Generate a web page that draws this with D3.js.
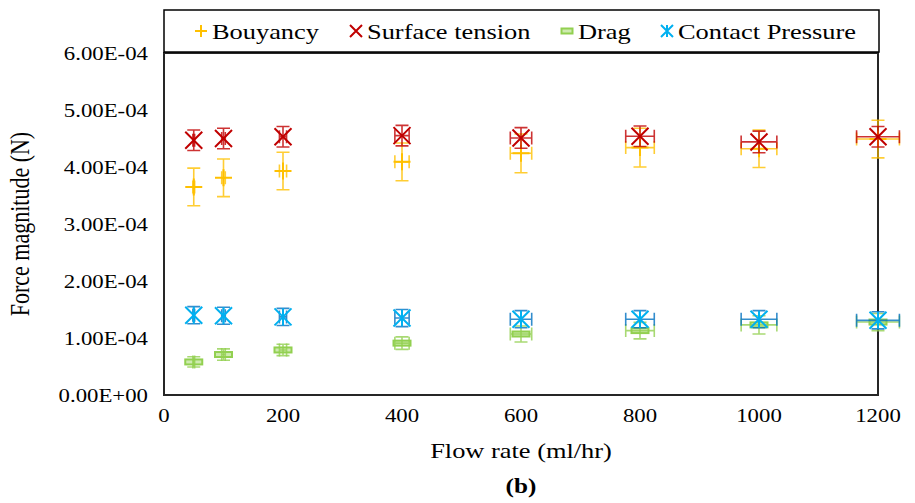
<!DOCTYPE html>
<html>
<head>
<meta charset="utf-8">
<script src="https://cdn.jsdelivr.net/npm/d3@7"></script>
<style>
  body { margin: 0; background: #fff; }
  svg { display: block; font-family: "Liberation Serif", "Times New Roman", serif; }
</style>
</head>
<body>
<svg id="chart" width="915" height="503"></svg>
<script>
// flow rate (ml/hr) and its error
const flowRates = [50, 100, 200, 400, 600, 800, 1000, 1200];
const flowErr = [1.5, 3, 6, 12, 18, 24, 30, 36];

// forces (N)
const bouyancy = [3.65e-4, 3.81e-4, 3.93e-4, 4.09e-4, 4.24e-4, 4.34e-4, 4.32e-4, 4.49e-4];
const bouyancyErr = [0.33e-4, 0.33e-4, 0.33e-4, 0.33e-4, 0.34e-4, 0.34e-4, 0.33e-4, 0.33e-4];
const surfaceTension = [4.47e-4, 4.50e-4, 4.53e-4, 4.55e-4, 4.51e-4, 4.54e-4, 4.44e-4, 4.53e-4];
const surfaceErr = [0.18e-4, 0.18e-4, 0.18e-4, 0.18e-4, 0.18e-4, 0.18e-4, 0.19e-4, 0.18e-4];
const drag = [0.58e-4, 0.71e-4, 0.79e-4, 0.91e-4, 1.07e-4, 1.13e-4, 1.23e-4, 1.28e-4];
const dragErr = [0.09e-4, 0.1e-4, 0.1e-4, 0.11e-4, 0.14e-4, 0.145e-4, 0.16e-4, 0.15e-4];
const contactPressure = [1.40e-4, 1.39e-4, 1.37e-4, 1.35e-4, 1.33e-4, 1.33e-4, 1.33e-4, 1.31e-4];
const contactErr = [0.15e-4, 0.15e-4, 0.15e-4, 0.15e-4, 0.15e-4, 0.15e-4, 0.15e-4, 0.15e-4];

const xTicks = [0, 200, 400, 600, 800, 1000, 1200];
const yTicks = [0, 1e-4, 2e-4, 3e-4, 4e-4, 5e-4, 6e-4];

const series = [
  { name: 'Bouyancy', values: bouyancy, err: bouyancyErr, shape: 'plus', color: '#FFC000', errColor: '#FFC000' },
  { name: 'Surface tension', values: surfaceTension, err: surfaceErr, shape: 'x', color: '#C00000', errColor: '#C00000' },
  { name: 'Drag', values: drag, err: dragErr, shape: 'dash', color: '#92D050', errColor: '#92D050' },
  { name: 'Contact Pressure', values: contactPressure, err: contactErr, shape: 'star', color: '#00B0F0', errColor: '#0070C0' }
];

const svg = d3.select('#chart');
const plot = { left: 164, right: 878, top: 53, bottom: 395 };
const stretch = 1.2; // the text in the picture is a bit wider than plain Times

const x = d3.scaleLinear().domain([0, 1200]).range([plot.left, plot.right]);
const y = d3.scaleLinear().domain([0, 6e-4]).range([plot.bottom, plot.top]);

// 0.00E+00 style labels
function sci(v) {
  if (v === 0) return '0.00E+00';
  const [m, e] = v.toExponential(2).split('e');
  const n = +e;
  return m + 'E' + (n < 0 ? '-' : '+') + String(Math.abs(n)).padStart(2, '0');
}

// text drawn at (px,py), widened horizontally
function wideText(parent, px, py, str, size, anchor, extra) {
  const t = parent.append('g')
    .attr('transform', `translate(${px},${py}) ${extra || ''} scale(${stretch},1)`)
    .append('text')
    .attr('text-anchor', anchor)
    .attr('font-size', size)
    .attr('fill', '#000')
    .text(str);
  return t;
}

// axis labels (no tick marks in the reference)
yTicks.forEach(v => wideText(svg, 148, y(v), sci(v), 19, 'end').attr('dy', '0.35em'));
xTicks.forEach(v => wideText(svg, x(v), 422, d3.format('d')(v), 19, 'middle'));

// plot frame
svg.append('rect')
  .attr('x', plot.left).attr('y', plot.top)
  .attr('width', plot.right - plot.left).attr('height', plot.bottom - plot.top)
  .attr('fill', 'none').attr('stroke', '#262626').attr('stroke-width', 2);

function marker(g, shape, color, s) {
  const sw = 2;
  if (shape === 'plus') {
    g.append('path').attr('d', `M${-s},0H${s}M0,${-s}V${s}`)
      .attr('stroke', color).attr('stroke-width', sw).attr('fill', 'none');
  } else if (shape === 'x') {
    g.append('path').attr('d', `M${-s},${-s}L${s},${s}M${-s},${s}L${s},${-s}`)
      .attr('stroke', color).attr('stroke-width', sw).attr('fill', 'none');
  } else if (shape === 'star') {
    g.append('path').attr('d', `M${-s},${-s}L${s},${s}M${-s},${s}L${s},${-s}M0,${-s}V${s}`)
      .attr('stroke', color).attr('stroke-width', sw).attr('fill', 'none');
  } else if (shape === 'dash') {
    g.append('rect').attr('x', -s).attr('y', -2.5).attr('width', 2 * s).attr('height', 5)
      .attr('stroke', color).attr('stroke-width', sw).attr('fill', color).attr('fill-opacity', 0.45);
  }
}

const cap = 6.5;
series.forEach(s => {
  const g = svg.append('g');
  s.values.forEach((v, i) => {
    const cx = x(flowRates[i]);
    const cy = y(v);
    const y0 = y(v - s.err[i]), y1 = y(v + s.err[i]);
    const x0 = x(flowRates[i] - flowErr[i]), x1 = x(flowRates[i] + flowErr[i]);
    const eb = g.append('g').attr('stroke', s.errColor).attr('stroke-width', 1.6)
      .attr('stroke-opacity', 0.8).attr('fill', 'none');
    eb.append('path').attr('d', `M${cx},${y0}V${y1}M${cx - cap},${y0}H${cx + cap}M${cx - cap},${y1}H${cx + cap}`);
    eb.append('path').attr('d', `M${x0},${cy}H${x1}M${x0},${cy - cap}V${cy + cap}M${x1},${cy - cap}V${cy + cap}`);
    const m = g.append('g').attr('transform', `translate(${cx},${cy})`);
    marker(m, s.shape, s.color, 8.5);
  });
});

// legend
const legend = svg.append('g');
legend.append('rect')
  .attr('x', 164).attr('y', 10).attr('width', 715).attr('height', 42)
  .attr('fill', '#fff').attr('stroke', '#000').attr('stroke-width', 1.5);
const legendX = [201, 356, 567, 667];
series.forEach((s, i) => {
  const m = legend.append('g').attr('transform', `translate(${legendX[i]},31)`);
  marker(m, s.shape, s.color, s.shape === 'dash' ? 5.5 : 6);
  wideText(legend, legendX[i] + 11, 31, s.name, 22, 'start').attr('dy', '0.35em');
});

// titles
wideText(svg, (plot.left + plot.right) / 2, 458, 'Flow rate (ml/hr)', 22, 'middle');
svg.append('g')
  .attr('transform', `translate(29,${(plot.top + plot.bottom) / 2}) rotate(-90) scale(1,${stretch})`)
  .append('text')
  .attr('text-anchor', 'middle').attr('font-size', 22).attr('fill', '#000')
  .text('Force magnitude (N)');
wideText(svg, (plot.left + plot.right) / 2, 493, '(b)', 21, 'middle').attr('font-weight', 'bold');
</script>
</body>
</html>
